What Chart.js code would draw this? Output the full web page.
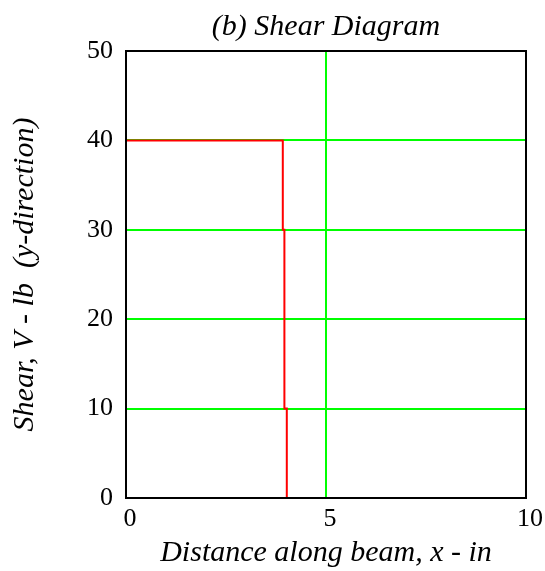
<!DOCTYPE html>
<html>
<head>
<meta charset="utf-8">
<script src="https://cdn.jsdelivr.net/npm/chart.js@4"></script>
<style>
  html, body { margin: 0; padding: 0; background: #fff; }
  canvas { display: block; }
</style>
</head>
<body>
<canvas id="shear" width="545" height="571"></canvas>
<script>
// shear diagram
const xValues = [0, 3.92, 3.92, 3.96, 3.96, 4.02, 4.02];
const shearValues = [40, 40, 30, 30, 10, 10, 0];
const xTickStep = 5;
const yTickStep = 10;

const serif = 'Liberation Serif';
const green = '#00ff00';

// black box around the plot area
const frame = {
  id: 'frame',
  afterDraw(chart) {
    const a = chart.chartArea;
    const ctx = chart.ctx;
    ctx.save();
    ctx.strokeStyle = '#000';
    ctx.lineWidth = 2;
    ctx.strokeRect(a.left, a.top, a.right - a.left, a.bottom - a.top);
    ctx.restore();
  }
};

new Chart(document.getElementById('shear').getContext('2d'), {
  type: 'scatter',
  data: {
    datasets: [{
      data: xValues.map((x, i) => ({ x: x, y: shearValues[i] })),
      showLine: true,
      borderColor: '#ff0000',
      borderWidth: 2,
      pointRadius: 0,
      tension: 0
    }]
  },
  options: {
    responsive: false,
    maintainAspectRatio: false,
    animation: false,
    layout: { padding: { left: 0, right: 18, top: 0, bottom: 0 } },
    plugins: {
      legend: { display: false },
      tooltip: { enabled: false },
      title: {
        display: true,
        fullSize: false,
        text: '(b) Shear Diagram',
        color: '#000',
        font: { family: serif, size: 30, style: 'italic', weight: 'normal' },
        padding: { top: 9, bottom: 6 }
      }
    },
    scales: {
      x: {
        type: 'linear',
        min: 0,
        max: 10,
        afterFit: s => { s.height = 73; },
        ticks: {
          stepSize: xTickStep,
          color: '#000',
          padding: 6,
          labelOffset: 4,
          font: { family: serif, size: 26 },
          maxRotation: 0
        },
        grid: {
          drawTicks: false,
          color: c => (c.tick && c.tick.value === 5) ? green : 'rgba(0,0,0,0)',
          lineWidth: 2
        },
        border: { color: '#000', width: 2 },
        title: {
          display: true,
          text: 'Distance along beam, x - in',
          color: '#000',
          font: { family: serif, size: 30, style: 'italic', weight: 'normal' },
          padding: { top: 0, bottom: 0 }
        }
      },
      y: {
        type: 'linear',
        min: 0,
        max: 50,
        afterFit: s => { s.width = 126; },
        ticks: {
          stepSize: yTickStep,
          color: '#000',
          padding: 13,
          font: { family: serif, size: 26 }
        },
        grid: {
          drawTicks: false,
          color: green,
          lineWidth: 2
        },
        border: { color: '#000', width: 2 },
        title: {
          display: true,
          text: 'Shear, V - lb  (y-direction)',
          color: '#000',
          font: { family: serif, size: 30, style: 'italic', weight: 'normal' },
          padding: { top: 7, bottom: 0 }
        }
      }
    }
  },
  plugins: [frame]
});
</script>
</body>
</html>
